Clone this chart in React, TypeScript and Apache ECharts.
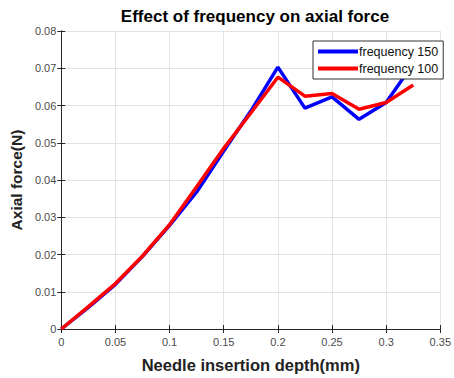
import React, { useEffect, useRef } from "react";
import * as echarts from "echarts";

const depth = [0, 0.025, 0.05, 0.075, 0.1, 0.125, 0.15, 0.175, 0.2, 0.225, 0.25, 0.275, 0.3, 0.325];
const freq150 = [0, 0.0058, 0.012, 0.0195, 0.0278, 0.0368, 0.0478, 0.0585, 0.0703, 0.0593, 0.0623, 0.0563, 0.0608, 0.0712];
const freq100 = [0, 0.006, 0.0122, 0.0196, 0.028, 0.0382, 0.0485, 0.058, 0.0676, 0.0625, 0.0632, 0.059, 0.0608, 0.0655];
const seriesNames = ["frequency 150", "frequency 100"];
const seriesColors = ["#0000ff", "#ff0000"];

const FONT = "Liberation Sans, Arial, sans-serif";

export default function App() {
  const ref = useRef<HTMLDivElement>(null);
  useEffect(() => {
    if (!ref.current) return;
    const chart = echarts.init(ref.current, null, { renderer: "svg" });
    const toPairs = (ys: number[]) => depth.map((x, i) => [x, ys[i]]);
    const axisLine = { show: true, lineStyle: { color: "#262626", width: 1 } };
    chart.setOption({
      animation: false,
      backgroundColor: "#ffffff",
      title: {
        text: "Effect of frequency on axial force",
        left: 250,
        textAlign: "center",
        top: 3,
        textStyle: { fontFamily: FONT, fontSize: 17, fontWeight: "bold", color: "#000" },
      },
      legend: {
        left: 313,
        top: 41,
        orient: "vertical",
        data: seriesNames.map((n) => ({ name: n, icon: "rect" })),
        itemWidth: 40,
        itemHeight: 4,
        itemGap: 4,
        padding: [4, 5, 4, 5],
        borderColor: "#333",
        borderWidth: 1,
        backgroundColor: "#fff",
        borderRadius: 0,
        textStyle: { fontFamily: FONT, fontSize: 12.5, color: "#111", padding: [0, 0, 0, -4] },
      },
      grid: { left: 58, right: 11, top: 31, bottom: 47, containLabel: false },
      xAxis: [
        {
          type: "value",
          min: 0,
          max: 0.35,
          interval: 0.05,
          position: "bottom",
          name: "Needle insertion depth(mm)",
          nameLocation: "middle",
          nameGap: 27,
          nameTextStyle: { fontFamily: FONT, fontSize: 16.5, fontWeight: "bold", color: "#222" },
          axisLine,
          axisTick: { show: true, inside: true, length: 4, lineStyle: { color: "#262626" } },
          axisLabel: { fontFamily: FONT, fontSize: 11, color: "#4a4a4a", margin: 7 },
          splitLine: { show: true, lineStyle: { color: "#e3e3e3", width: 1 } },
        },
        {
          type: "value",
          min: 0,
          max: 0.35,
          interval: 0.05,
          position: "top",
          axisLine,
          axisTick: { show: true, inside: true, length: 4, lineStyle: { color: "#262626" } },
          axisLabel: { show: false },
          splitLine: { show: false },
        },
      ],
      yAxis: [
        {
          type: "value",
          min: 0,
          max: 0.08,
          interval: 0.01,
          position: "left",
          name: "Axial force(N)",
          nameLocation: "middle",
          nameGap: 30,
          nameTextStyle: { fontFamily: FONT, fontSize: 15.5, fontWeight: "bold", color: "#222" },
          axisLine,
          axisTick: { show: true, inside: true, length: 4, lineStyle: { color: "#262626" } },
          axisLabel: { fontFamily: FONT, fontSize: 11, color: "#4a4a4a", margin: 5 },
          splitLine: { show: true, lineStyle: { color: "#e3e3e3", width: 1 } },
        },
        {
          type: "value",
          min: 0,
          max: 0.08,
          interval: 0.01,
          position: "right",
          axisLine,
          axisTick: { show: true, inside: true, length: 4, lineStyle: { color: "#262626" } },
          axisLabel: { show: false },
          splitLine: { show: false },
        },
      ],
      series: [
        {
          name: seriesNames[0],
          type: "line",
          data: toPairs(freq150),
          showSymbol: false,
          symbol: "none",
          lineStyle: { color: seriesColors[0], width: 3.5 },
          itemStyle: { color: seriesColors[0] },
          z: 2,
        },
        {
          name: seriesNames[1],
          type: "line",
          data: toPairs(freq100),
          showSymbol: false,
          symbol: "none",
          lineStyle: { color: seriesColors[1], width: 3.5 },
          itemStyle: { color: seriesColors[1] },
          z: 3,
        },
      ],
    });
    return () => chart.dispose();
  }, []);
  return (
    <div
      ref={ref}
      style={{ position: "absolute", left: 0, top: 0, width: 454, height: 378, background: "#fff" }}
    />
  );
}
